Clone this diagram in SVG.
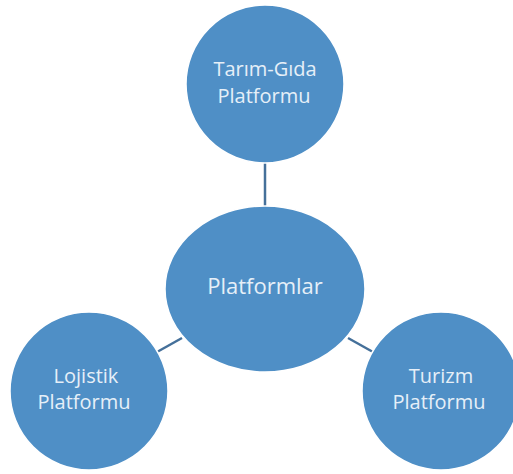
<svg xmlns="http://www.w3.org/2000/svg" width="513" height="474" viewBox="0 0 513 474">
<style>
.node{fill:#4f8fc6;stroke:#ffffff;stroke-width:1.5}
.conn{stroke:#45709a;stroke-width:2.5;fill:none}
.lbl{font-family:"Open Sans","Noto Sans","Liberation Sans",sans-serif;fill:#e6eff8;text-anchor:middle;font-size:20px}
</style>
<rect width="513" height="474" fill="#ffffff"/>
<g id="connectors">
<line class="conn" x1="265" y1="160" x2="265" y2="210"/>
<line class="conn" x1="182" y1="338" x2="157" y2="352"/>
<line class="conn" x1="348" y1="338" x2="373" y2="352"/>
</g>
<g id="node-tarim">
<circle class="node" cx="265" cy="84" r="79"/>
<text class="lbl" x="265" y="76">Tarım-Gıda</text>
<text class="lbl" x="264" y="103">Platformu</text>
</g>
<g id="node-platformlar">
<ellipse class="node" cx="265" cy="289" rx="100" ry="83"/>
<text class="lbl" x="265" y="294" style="font-size:22px">Platformlar</text>
</g>
<g id="node-lojistik">
<circle class="node" cx="89" cy="391" r="79"/>
<text class="lbl" x="86" y="383">Lojistik</text>
<text class="lbl" x="84" y="409">Platformu</text>
</g>
<g id="node-turizm">
<circle class="node" cx="441" cy="391" r="79"/>
<text class="lbl" x="441" y="383">Turizm</text>
<text class="lbl" x="439" y="409">Platformu</text>
</g>
</svg>
